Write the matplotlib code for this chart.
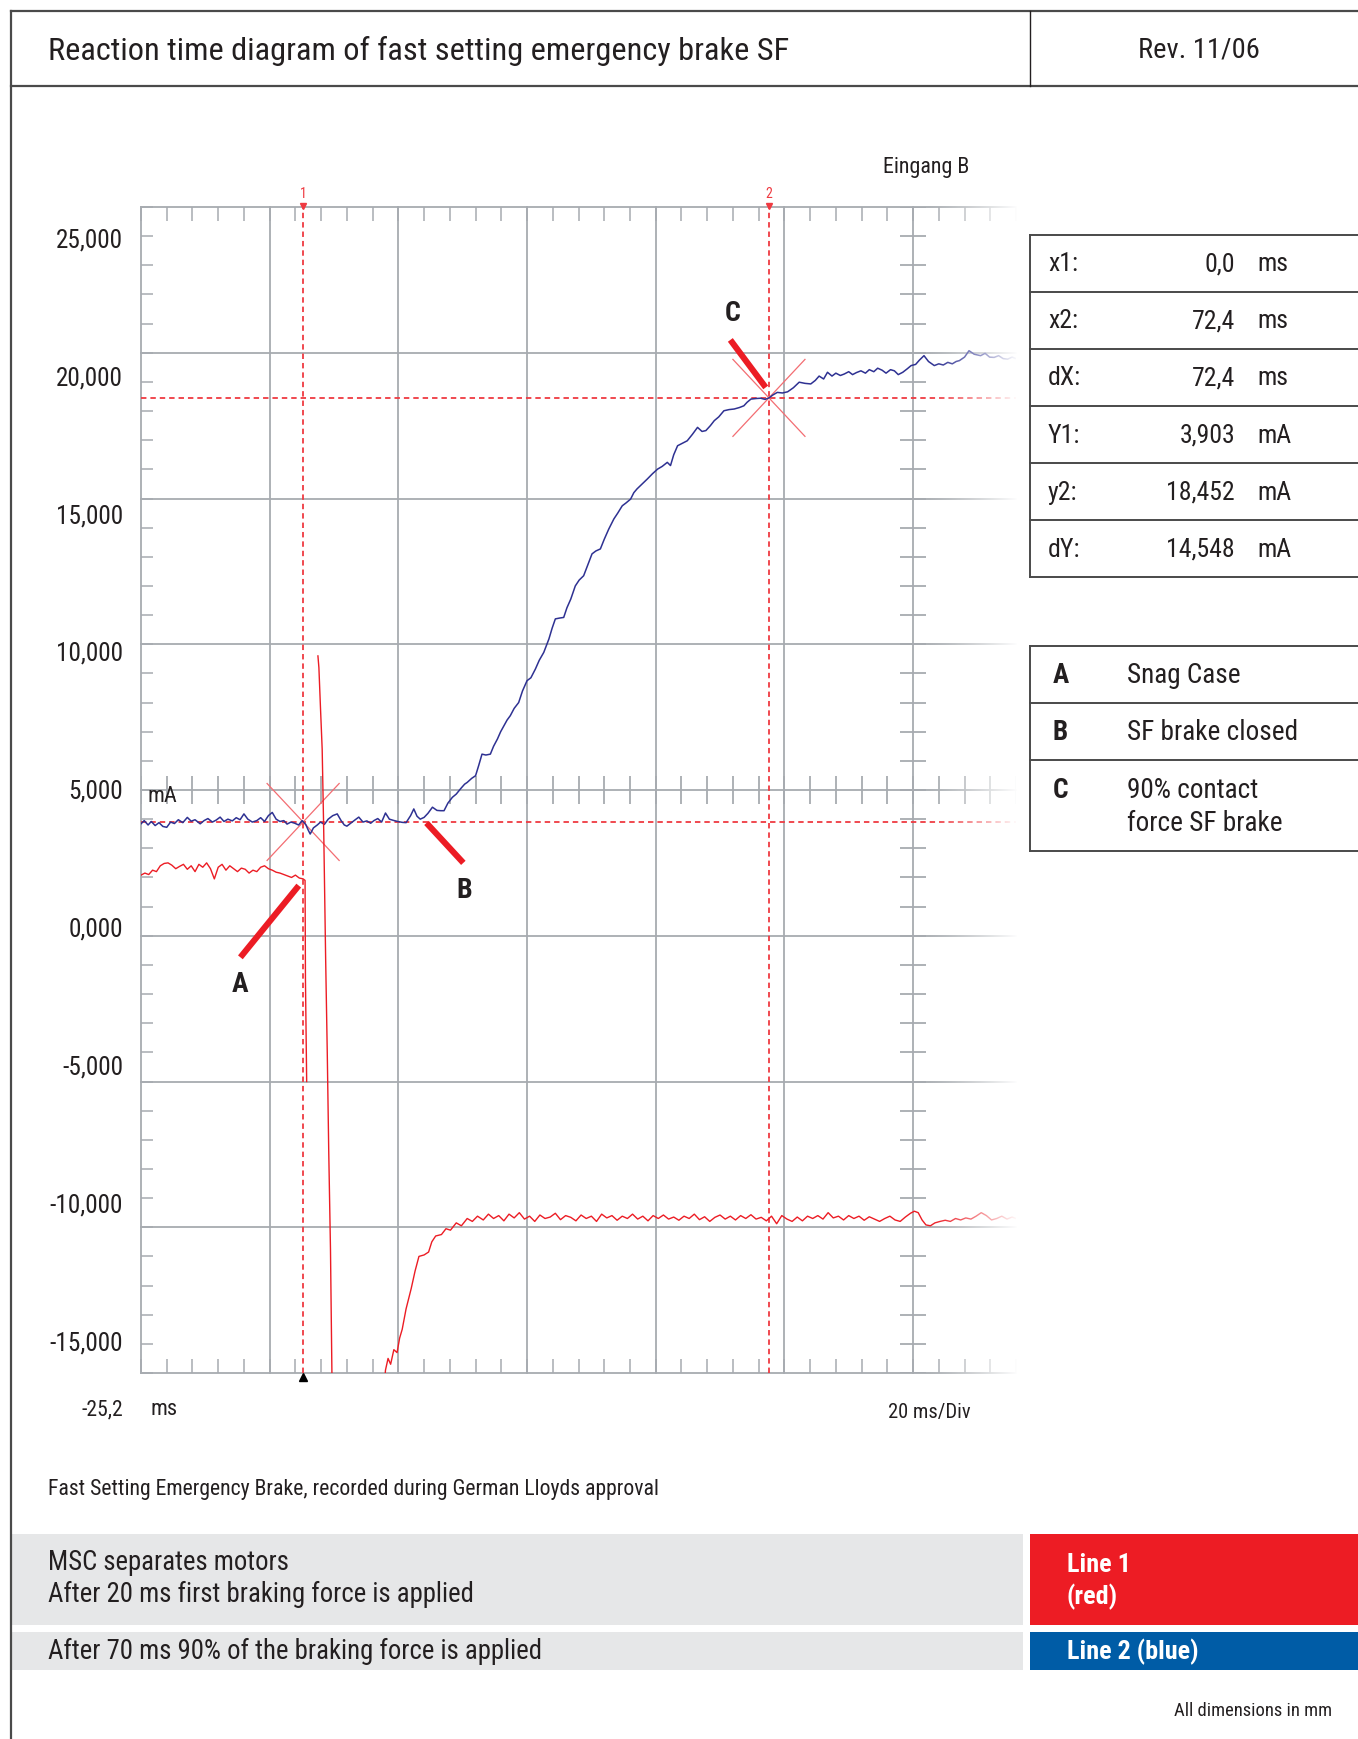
import numpy as np
import matplotlib
matplotlib.use("Agg")
import matplotlib.pyplot as plt
from matplotlib import transforms
from matplotlib.lines import Line2D
from matplotlib.patches import Rectangle
from matplotlib.ticker import FixedLocator

plt.rcParams["font.family"] = ["Roboto Condensed", "Fira Sans Condensed", "DejaVu Sans"]
plt.rcParams["font.stretch"] = "condensed"

# --- scope settings -------------------------------------------------------
t_start = -25.2          # ms, left edge of the screen
t_end = 110.8            # ms, where the trace fades out
ms_per_div = 20
ma_per_div = 5
y_range = (-15, 25)      # mA
label_values = [25, 20, 15, 10, 5, 0, -5, -10, -15]

# cursors
cursor_x = [0.0, 72.4]        # ms
cursor_y = [3.903, 18.452]    # mA
readout_names = ["x1:", "x2:", "dX:", "Y1:", "y2:", "dY:"]
readout_values = [cursor_x[0], cursor_x[1], cursor_x[1] - cursor_x[0],
                  cursor_y[0], cursor_y[1], 14.548]
readout_units = ["ms", "ms", "ms", "mA", "mA", "mA"]
readout_digits = [1, 1, 1, 3, 3, 3]

# line 2 (blue): (ms, mA)
blue_trace = [
    (-25.2, 3.84), (-24.7, 3.95), (-24.1, 3.80), (-23.6, 3.92), (-23.0, 3.78),
    (-22.4, 3.88), (-21.8, 3.75), (-21.2, 3.72), (-20.6, 3.90), (-20.0, 3.85),
    (-19.4, 3.98), (-18.7, 3.88), (-18.0, 4.06), (-17.4, 3.93), (-16.8, 3.98),
    (-16.0, 3.84), (-15.4, 3.95), (-14.8, 4.02), (-14.1, 3.90), (-13.5, 3.97),
    (-12.9, 4.07), (-12.3, 3.92), (-11.7, 4.00), (-11.0, 3.94), (-10.4, 4.05),
    (-9.8, 3.98), (-9.2, 4.18), (-8.6, 4.00), (-7.9, 3.90), (-7.2, 3.95),
    (-6.6, 4.05), (-6.0, 3.92), (-5.4, 4.12), (-4.8, 4.23), (-4.2, 4.00),
    (-3.6, 3.92), (-3.0, 3.95), (-2.5, 3.83), (-1.9, 3.90), (-1.3, 3.86),
    (-0.7, 3.80), (-0.15, 3.95), (0.4, 3.82), (0.8, 3.62), (1.1, 3.49),
    (1.6, 3.70), (2.2, 3.80), (2.7, 3.90), (3.3, 3.82), (3.9, 4.00),
    (4.6, 4.12), (5.3, 4.18), (5.9, 3.95), (6.4, 3.80), (6.8, 3.76),
    (7.5, 3.88), (8.1, 3.98), (8.65, 4.07), (9.3, 3.90), (9.9, 3.94),
    (10.5, 3.86), (11.0, 3.95), (11.6, 4.02), (12.2, 3.90), (12.8, 4.21),
    (13.4, 4.00), (14.0, 3.96), (14.7, 3.92), (15.4, 3.89), (16.0, 3.88),
    (16.7, 4.12), (17.2, 4.35), (17.7, 4.10), (18.2, 4.00), (18.8, 4.06),
    (19.4, 4.20), (20.1, 4.41), (20.8, 4.30), (21.4, 4.29), (21.9, 4.29),
    (22.5, 4.55), (23.2, 4.75), (23.8, 4.86), (24.5, 5.05), (25.1, 5.20),
    (25.5, 5.26), (26.2, 5.40), (26.8, 5.49), (27.3, 5.85), (27.8, 6.23),
    (28.4, 6.20), (29.1, 6.23), (29.6, 6.50), (30.2, 6.75), (30.7, 7.00),
    (31.2, 7.20), (31.7, 7.40), (32.2, 7.55), (32.8, 7.80), (33.5, 8.00),
    (34.1, 8.40), (34.8, 8.75), (35.4, 8.85), (36.1, 9.15), (36.7, 9.45),
    (37.4, 9.72), (38.2, 10.18), (38.7, 10.55), (39.2, 10.87), (39.9, 10.90),
    (40.5, 10.92), (41.0, 11.25), (41.6, 11.55), (42.3, 12.00), (42.9, 12.20),
    (43.6, 12.35), (44.2, 12.70), (44.9, 13.10), (45.5, 13.20), (46.2, 13.27),
    (46.8, 13.60), (47.5, 13.95), (48.3, 14.30), (48.9, 14.50), (49.6, 14.75),
    (50.2, 14.85), (50.9, 14.98), (51.4, 15.20), (51.9, 15.33), (52.7, 15.50),
    (53.5, 15.67), (54.3, 15.85), (55.1, 16.01), (55.8, 16.10), (56.6, 16.24),
    (57.1, 16.13), (57.6, 16.50), (58.2, 16.81), (59.0, 16.90), (59.7, 16.98),
    (60.5, 17.20), (61.3, 17.44), (62.0, 17.30), (62.6, 17.33), (63.3, 17.50),
    (63.9, 17.67), (64.6, 17.80), (65.4, 18.01), (66.2, 18.05), (67.0, 18.07),
    (67.8, 18.12), (68.5, 18.18), (69.0, 18.30), (69.6, 18.41), (70.4, 18.43),
    (71.1, 18.44), (71.8, 18.40), (72.4, 18.45), (73.0, 18.55), (73.7, 18.64),
    (74.5, 18.62), (75.3, 18.66), (76.2, 18.80), (77.1, 18.99), (78.0, 18.95),
    (78.9, 18.93), (79.6, 19.05), (80.2, 19.20), (80.9, 19.10), (81.5, 19.33),
    (82.2, 19.20), (82.8, 19.30), (83.5, 19.22), (84.1, 19.27), (84.8, 19.35),
    (85.4, 19.25), (86.0, 19.32), (86.7, 19.38), (87.4, 19.30), (88.0, 19.42),
    (88.7, 19.35), (89.3, 19.47), (90.0, 19.40), (90.6, 19.30), (91.3, 19.42),
    (91.9, 19.38), (92.5, 19.25), (93.2, 19.33), (93.9, 19.45), (94.5, 19.56),
    (95.2, 19.60), (95.8, 19.75), (96.5, 19.90), (97.2, 19.70), (98.1, 19.56),
    (98.8, 19.62), (99.5, 19.58), (100.2, 19.67), (100.9, 19.62), (101.5, 19.70),
    (102.0, 19.73), (102.8, 19.85), (103.5, 20.07), (104.3, 19.95), (105.3, 19.90),
    (106.0, 19.98), (106.7, 19.85), (107.4, 19.84), (108.1, 19.90), (108.8, 19.80),
    (109.5, 19.78), (110.2, 19.85), (110.8, 19.80),
]

# line 1 (red): before the drop, the overshoot and the recovery
red_before = [
    (-25.2, 2.08), (-24.6, 2.15), (-24.0, 2.10), (-23.4, 2.25), (-22.8, 2.20),
    (-22.2, 2.40), (-21.6, 2.48), (-21.0, 2.50), (-20.4, 2.42), (-19.8, 2.30),
    (-19.2, 2.38), (-18.6, 2.45), (-18.0, 2.28), (-17.4, 2.40), (-16.8, 2.20),
    (-16.2, 2.45), (-15.6, 2.35), (-15.0, 2.50), (-14.4, 2.30), (-13.8, 1.95),
    (-13.2, 2.35), (-12.6, 2.45), (-12.0, 2.25), (-11.4, 2.40), (-10.8, 2.30),
    (-10.2, 2.20), (-9.6, 2.32), (-9.0, 2.28), (-8.4, 2.15), (-7.8, 2.25),
    (-7.2, 2.20), (-6.6, 2.35), (-6.0, 2.40), (-5.4, 2.30), (-4.8, 2.25),
    (-4.2, 2.18), (-3.6, 2.15), (-3.0, 2.10), (-2.4, 2.05), (-1.8, 2.00),
    (-1.2, 2.08), (-0.6, 1.98), (0.0, 1.95), (0.3, 1.90), (0.36, -1.5),
    (0.55, -5.0),
]
red_spike = [
    (2.3, 9.6), (2.45, 9.2), (2.7, 7.8), (2.96, 6.4), (3.2, 3.6),
    (3.5, -0.8), (3.75, -4.0), (3.98, -7.4), (4.25, -10.75), (4.5, -15.5),
]
red_after = [
    (12.6, -15.5), (12.8, -14.9), (13.2, -14.5), (13.6, -14.7), (14.1, -14.2),
    (14.6, -14.3), (15.0, -13.8), (15.4, -13.5), (16.0, -12.8), (16.8, -12.1),
    (17.4, -11.5), (18.0, -11.0), (18.8, -10.95), (19.5, -10.85), (20.0, -10.5),
    (20.6, -10.3), (21.5, -10.25), (22.2, -10.05), (22.9, -10.1), (23.8, -9.85),
    (24.6, -9.95), (25.5, -9.7), (26.3, -9.80), (27.1, -9.62), (28.0, -9.75),
    (28.8, -9.55), (29.6, -9.70), (30.4, -9.60), (31.2, -9.78), (32.0, -9.55),
    (32.8, -9.68), (33.6, -9.50), (34.4, -9.72), (35.2, -9.62), (36.0, -9.80),
    (36.8, -9.58), (37.6, -9.70), (38.4, -9.65), (39.2, -9.52), (40.0, -9.74),
    (40.8, -9.60), (41.6, -9.66), (42.4, -9.78), (43.2, -9.58), (44.0, -9.70),
    (44.8, -9.62), (45.6, -9.80), (46.4, -9.55), (47.2, -9.68), (48.0, -9.60),
    (48.8, -9.76), (49.6, -9.62), (50.4, -9.70), (51.2, -9.55), (52.0, -9.72),
    (52.8, -9.62), (53.6, -9.78), (54.4, -9.60), (55.2, -9.70), (56.0, -9.58),
    (56.8, -9.72), (57.6, -9.65), (58.4, -9.76), (59.2, -9.62), (60.0, -9.70),
    (60.8, -9.55), (61.6, -9.74), (62.4, -9.64), (63.2, -9.80), (64.0, -9.66),
    (64.8, -9.58), (65.6, -9.72), (66.4, -9.62), (67.2, -9.75), (68.0, -9.60),
    (68.8, -9.70), (69.6, -9.57), (70.4, -9.72), (71.2, -9.66), (72.0, -9.78),
    (72.8, -9.62), (73.6, -9.88), (74.4, -9.60), (75.2, -9.72), (76.0, -9.80),
    (76.8, -9.65), (77.6, -9.78), (78.4, -9.62), (79.2, -9.70), (80.0, -9.60),
    (80.8, -9.72), (81.6, -9.50), (82.4, -9.68), (83.2, -9.62), (84.0, -9.75),
    (84.8, -9.60), (85.6, -9.70), (86.4, -9.62), (87.2, -9.76), (88.0, -9.64),
    (88.8, -9.72), (89.6, -9.80), (90.4, -9.70), (91.2, -9.62), (92.0, -9.75),
    (92.8, -9.80), (93.6, -9.65), (94.4, -9.52), (95.0, -9.45), (95.6, -9.50),
    (96.2, -9.75), (96.8, -9.92), (97.5, -9.95), (98.2, -9.85), (99.0, -9.80),
    (99.8, -9.76), (100.6, -9.80), (101.4, -9.70), (102.2, -9.75), (103.0, -9.68),
    (103.8, -9.72), (104.6, -9.62), (105.4, -9.50), (106.2, -9.60), (107.0, -9.75),
    (107.8, -9.70), (108.6, -9.62), (109.4, -9.72), (110.2, -9.65), (110.8, -9.70),
]

# event markers: letter, bar tip, bar tail, letter position
events = [
    ("A", (-0.68, 1.72), (-9.75, -0.74), (-9.86, -1.65)),
    ("B", (19.17, 3.87), (24.9, 2.5), (24.97, 1.6)),
    ("C", (71.9, 18.81), (66.4, 20.44), (66.8, 21.39)),
]
legend_keys = ["A", "B", "C"]
legend_texts = ["Snag Case", "SF brake closed", "90% contact\nforce SF brake"]

RED = "#ec1c24"
BLUE = "#2e3192"
GRID = "#a7abb0"
CURSOR = "#ef3a41"
INK = "#231f20"
FRAME = "#4a4a4a"

W, H = 1358, 1740
fig = plt.figure(figsize=(W / 100, H / 100), dpi=100)
page = transforms.Affine2D().scale(1 / W, -1 / H).translate(0, 1) + fig.transFigure


def page_line(xs, ys, **kw):
    fig.add_artist(Line2D(xs, ys, transform=page, **kw))


def page_box(x0, y0, x1, y1, color):
    fig.add_artist(Rectangle((x0, y0), x1 - x0, y1 - y0, transform=page,
                             facecolor=color, edgecolor="none"))


def page_text(x, y, s, **kw):
    kw.setdefault("color", INK)
    kw.setdefault("va", "center")
    fig.text(x, y, s, transform=page, **kw)


def comma(v, digits):
    return f"{v:.{digits}f}".replace(".", ",")


# --- page frame and header ------------------------------------------------
page_line([10.5, W], [11.7, 11.7], color=FRAME, lw=1.6)
page_line([10.5, W], [86.7, 86.7], color=FRAME, lw=1.6)
page_line([10.5, 10.5], [11.7, H], color=FRAME, lw=1.6)
page_line([1030, 1030], [11.7, 86.7], color=INK, lw=1.0)
page_text(47.6, 51, "Reaction time diagram of fast setting emergency brake SF", fontsize=23.3)
page_text(1199, 50, "Rev. 11/06", fontsize=20.5, ha="center")

# --- scope screen ---------------------------------------------------------
ax_left, ax_top, ax_right, ax_bottom = 141, 208, 1016, 1374
rect = [ax_left / W, 1 - ax_bottom / H, (ax_right - ax_left) / W, (ax_bottom - ax_top) / H]

# tick labels sit on their own scale, a bit off the grid like on the print
lab = fig.add_axes(rect, frameon=False)
lab.set_ylim(-16.18, 26.07)
lab.set_xticks([])
lab.set_yticks(label_values)
lab.set_yticklabels([f"{v:,.3f}".replace(".", ",") for v in label_values])
lab.tick_params(axis="y", length=0, pad=13, labelsize=18.2, labelcolor=INK)

ax = fig.add_axes(rect)
ax.patch.set_alpha(0)
for s in ax.spines.values():
    s.set_visible(False)
ax.set_xlim(t_start, t_end)
ax.set_ylim(*y_range)

minor_t = np.arange(t_start, t_end + 0.01, ms_per_div / 5)
minor_y = np.arange(y_range[0], y_range[1] + 0.01, ma_per_div / 5)
ax.xaxis.set_major_locator(FixedLocator(minor_t))
ax.yaxis.set_major_locator(FixedLocator(minor_y))
ax.tick_params(axis="x", direction="in", top=True, bottom=True, length=10,
               width=1.1, color=GRID, labelbottom=False)
ax.tick_params(axis="y", direction="in", left=True, right=False, length=8.6,
               width=1.1, color=GRID, labelleft=False)

grid_t = np.arange(t_start, t_end, ms_per_div)
grid_y = np.arange(y_range[0], y_range[1] + 0.01, ma_per_div)
for t in grid_t:
    ax.axvline(t, color=GRID, lw=1.3, zorder=1, clip_on=False)
for y in grid_y:
    ax.axhline(y, color=GRID, lw=1.3, zorder=1, clip_on=False)

# centre cross axes with their own tick marks
t_mid = grid_t[6]
y_mid = grid_y[4]
ax.hlines(minor_y, t_mid - 2.0, t_mid + 2.0, color=GRID, lw=1.3, zorder=1)
ax.vlines(minor_t, y_mid - 0.48, y_mid + 0.48, color=GRID, lw=1.3, zorder=1)

# cursors
dash = (0, (3, 2.2))
for cx in cursor_x:
    ax.axvline(cx, color=CURSOR, lw=1.3, ls=dash, zorder=2)
for cy in cursor_y:
    ax.axhline(cy, color=CURSOR, lw=1.3, ls=dash, zorder=2)
for cx, cy in zip(cursor_x, cursor_y):
    for s in (1, -1):
        ax.plot([cx - 5.6, cx + 5.6], [cy - s * 1.32, cy + s * 1.32],
                color="#f36d72", lw=0.9, zorder=2)
for i, cx in enumerate(cursor_x):
    ax.plot(cx, y_range[1] + 0.05, marker="v", ms=5, color=CURSOR, clip_on=False, zorder=3)
    ax.text(cx, y_range[1] + 0.25, str(i + 1), color=CURSOR, fontsize=10,
            ha="center", va="bottom")
ax.plot(cursor_x[0], y_range[0] - 0.15, marker="^", ms=6, color="black",
        clip_on=False, zorder=3)

# traces
bt, bv = np.array(blue_trace).T
ax.plot(bt, bv, color=BLUE, lw=1.1, zorder=4)
for seg in (red_before, red_spike, red_after):
    rt, rv = np.array(seg).T
    ax.plot(rt, rv, color=RED, lw=1.0, zorder=4)

# event bars and letters
for key, tip, tail, pos in events:
    ax.plot([tip[0], tail[0]], [tip[1], tail[1]], color=RED, lw=4.4,
            solid_capstyle="butt", zorder=5)
    ax.text(pos[0], pos[1], key, fontsize=20, fontweight="bold", color=INK,
            ha="center", va="center", zorder=5)

# traces fade out towards the right edge
fade = np.ones((1, 256, 4))
fade[..., 3] = np.linspace(0, 1, 256) ** 1.3
ax.imshow(fade, extent=[97.0, t_end + 0.3, y_range[0] - 0.6, y_range[1] + 0.6],
          aspect="auto", zorder=9, clip_on=False, interpolation="bilinear")
ax.set_xlim(t_start, t_end)
ax.set_ylim(*y_range)

# screen captions
page_text(883, 168, "Eingang B", fontsize=15.8)
page_text(147.7, 797, "mA", fontsize=16)
page_text(123, 1410, comma(t_start, 1), fontsize=15.6, ha="right")
page_text(151, 1410, "ms", fontsize=16)
page_text(888, 1413, f"{ms_per_div} ms/Div", fontsize=14.8)

# --- cursor readout table -------------------------------------------------
row_h = 57.1
top = 235.7
page_line([1030, W], [top, top], color=FRAME, lw=1.4)
for i in range(len(readout_names)):
    y0 = top + i * row_h
    yc = y0 + row_h / 2
    page_line([1030, W], [y0 + row_h, y0 + row_h], color=FRAME, lw=1.4)
    page_text(1048, yc, readout_names[i], fontsize=18.5)
    page_text(1235, yc, comma(readout_values[i], readout_digits[i]), fontsize=18.5, ha="right")
    page_text(1257, yc, readout_units[i], fontsize=18.5)
page_line([1030, 1030], [top, top + 6 * row_h], color=FRAME, lw=1.4)

# --- event legend ---------------------------------------------------------
leg_rows = [646.7, 704, 761, 851.7]
for y in leg_rows:
    page_line([1030, W], [y, y], color=FRAME, lw=1.4)
page_line([1030, 1030], [leg_rows[0], leg_rows[-1]], color=FRAME, lw=1.4)
for i, (k, txt) in enumerate(zip(legend_keys, legend_texts)):
    y0, y1 = leg_rows[i], leg_rows[i + 1]
    if "\n" in txt:
        first, second = txt.split("\n")
        page_text(1053, y0 + 30, k, fontsize=19.5, fontweight="bold")
        page_text(1127, y0 + 30, first, fontsize=19.6)
        page_text(1127, y0 + 63, second, fontsize=19.6)
    else:
        page_text(1053, (y0 + y1) / 2, k, fontsize=19.5, fontweight="bold")
        page_text(1127, (y0 + y1) / 2, txt, fontsize=19.6)

# --- notes ----------------------------------------------------------------
page_text(47.6, 1490, "Fast Setting Emergency Brake, recorded during German Lloyds approval",
          fontsize=15.7)
page_box(10.5, 1535, 1023, 1626, "#e6e7e8")
page_box(1029.5, 1535, W, 1626, "#ed1c24")
page_box(10.5, 1632.7, 1023, 1670.7, "#e6e7e8")
page_box(1029.5, 1632.7, W, 1670.7, "#005ca6")
page_text(47.6, 1563, "MSC separates motors", fontsize=19.3)
page_text(47.6, 1594, "After 20 ms first braking force is applied", fontsize=19.3)
page_text(47.6, 1651, "After 70 ms 90% of the braking force is applied", fontsize=19.3)
page_text(1067, 1565, "Line 1", fontsize=18.8, fontweight="bold", color="white")
page_text(1067, 1597, "(red)", fontsize=18.8, fontweight="bold", color="white")
page_text(1067, 1652, "Line 2 (blue)", fontsize=18.8, fontweight="bold", color="white")
page_text(1332, 1711, "All dimensions in mm", fontsize=13.3, ha="right")

fig.savefig("out.png", dpi=100)
